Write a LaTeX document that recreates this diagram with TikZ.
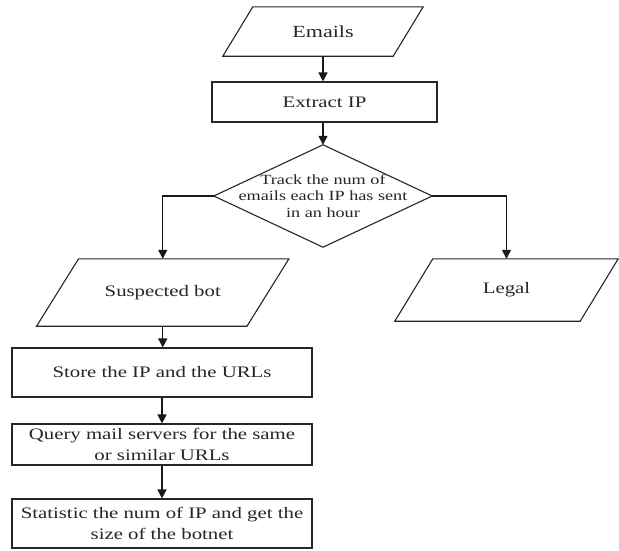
\documentclass[tikz,border=0pt]{standalone}
\usepackage{fontspec}
\setmainfont{Liberation Serif}[FakeStretch=1.3]
\usetikzlibrary{arrows.meta,calc}
\tikzset{
  box/.style={draw=black!85, line width=1.1pt, rectangle, inner sep=0pt, align=center, font=\fontsize{16}{21}\selectfont, text=black!85},
  hid/.style={rectangle, inner sep=0pt, align=center, font=\fontsize{16}{21}\selectfont, text=black!85},
  outl/.style={draw=black!85, line width=1.1pt, line join=miter},
  conn/.style={draw=black!90, line width=1.4pt, -{Triangle[length=9pt,width=9pt]}},
  plain/.style={draw=black!90, line width=1.4pt}
}
\newcommand{\paral}[2]{\draw[outl] ([xshift=#2]#1.north west) -- ([xshift=#2]#1.north east) -- ([xshift=-#2]#1.south east) -- ([xshift=-#2]#1.south west) -- cycle;}
\begin{document}
\begin{tikzpicture}[x=1pt,y=-1pt]
\useasboundingbox (0,0) rectangle (619,550);
\fill[white] (0,0) rectangle (619,550);

\node[hid, minimum width=170pt, minimum height=49pt, font=\fontsize{17}{21}\selectfont] (emails) at (323,31.5) {Emails};
\paral{emails}{15pt}

\node[box, minimum width=225pt, minimum height=40pt] (extract) at (324.5,102) {Extract IP};

\node[hid, minimum width=218pt, minimum height=102pt, font=\fontsize{14}{16.5}\selectfont] (track) at (323,196) {Track the num of\\emails each IP has sent\\in an hour};
\draw[outl] (track.north) -- (track.east) -- (track.south) -- (track.west) -- cycle;

\node[hid, minimum width=210pt, minimum height=67pt] (bot) at (162.75,292.5) {Suspected bot};
\paral{bot}{21pt}

\node[hid, minimum width=185pt, minimum height=62pt] (legal) at (506.5,290) {Legal};
\paral{legal}{19pt}

\node[box, minimum width=300pt, minimum height=49pt] (store) at (162,372.5) {Store the IP and the URLs};
\node[box, minimum width=300pt, minimum height=41pt] (query) at (162,444.5) {Query mail servers for the same\\or similar URLs};
\node[box, minimum width=300pt, minimum height=49pt] (stat) at (162,523.5) {Statistic the num of IP and get the\\size of the botnet};

\draw[conn] (emails.south) -- (emails.south |- extract.north);
\draw[conn] (track.north |- extract.south) -- (track.north);
\draw[conn] (track.west) -| (bot.north);
\draw[conn] (track.east) -| (legal.north);
\draw[conn] (bot.south) -- (bot.south |- store.north);
\draw[conn] (store.south) -- (query.north);
\draw[conn] (query.south) -- (stat.north);
\end{tikzpicture}
\end{document}
